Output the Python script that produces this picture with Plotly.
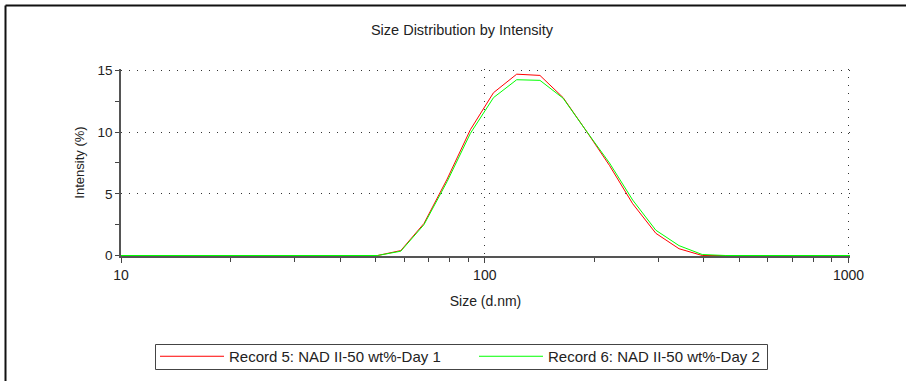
import plotly.graph_objects as go

# Size bins (d.nm)
sizes = [8.721, 10.10, 11.70, 13.54, 15.69, 18.17, 21.04, 24.36, 28.21, 32.67,
         37.84, 43.82, 50.75, 58.77, 68.06, 78.82, 91.28, 105.7, 122.4, 141.8,
         164.2, 190.1, 220.2, 255.0, 295.3, 342.0, 396.1, 458.7, 531.2, 615.1,
         712.4, 825.0, 955.4, 1106]

# Intensity (%) for each record
day1 = [0, 0, 0, 0, 0, 0, 0, 0, 0, 0,
        0, 0, 0.0, 0.4, 2.6, 6.2, 10.2, 13.2, 14.7, 14.6,
        12.8, 10.1, 7.3, 4.2, 1.8, 0.55, 0.0, 0, 0, 0,
        0, 0, 0, 0]
day2 = [0, 0, 0, 0, 0, 0, 0, 0, 0, 0,
        0, 0, 0.0, 0.35, 2.5, 6.0, 9.9, 12.8, 14.25, 14.2,
        12.75, 10.1, 7.5, 4.5, 2.05, 0.8, 0.08, 0, 0, 0,
        0, 0, 0, 0]

names = ["Record 5: NAD II-50 wt%-Day 1", "Record 6: NAD II-50 wt%-Day 2"]
colors = ["#ff0000", "#00ff00"]

title_text = "Size Distribution by Intensity"
x_title = "Size (d.nm)"
y_title = "Intensity (%)"
y_ticks = [0, 5, 10, 15]
x_ticks = [10, 100, 1000]
x_minor = [20, 30, 40, 50, 60, 70, 80, 90, 200, 300, 400, 500, 600, 700, 800, 900]

FONT = "Liberation Sans, Arial, sans-serif"

fig = go.Figure()
for vals, nm, col in zip([day1, day2], names, colors):
    fig.add_trace(go.Scatter(x=sizes, y=vals, mode="lines", name=nm,
                             line=dict(color=col, width=1)))

L, R, T, B = 121, 56, 69, 125
W, H = 906, 381
pw = W - L - R
ph = H - T - B


def px_x(x):
    return (x - L) / pw


def px_y(y):
    return (H - B - y) / ph


fig.update_layout(
    width=W, height=H,
    margin=dict(l=L, r=R, t=T, b=B, pad=0, autoexpand=False),
    paper_bgcolor="white", plot_bgcolor="white",
    font=dict(family=FONT, size=13, color="#222"),
    title=dict(text=title_text, x=(462) / W, xanchor="center",
               y=1 - 30 / H, yanchor="middle", yref="container",
               font=dict(size=14.5, color="#222")),
    xaxis=dict(type="log", range=[1, 3.004], automargin=False,
               tickvals=x_ticks, ticktext=[str(v) for v in x_ticks],
               ticks="outside", ticklen=5, tickcolor="#444", tickwidth=1,
               showline=True, linecolor="#555", linewidth=1.5,
               showgrid=True, gridcolor="#333", gridwidth=1, griddash="1px,7px",
               zeroline=False,
               tickfont=dict(size=14),
               title=dict(text=x_title, font=dict(size=14), standoff=15),
               minor=dict(tickvals=x_minor, ticks="outside", ticklen=4,
                          tickcolor="#444", showgrid=False)),
    yaxis=dict(range=[-0.04, 15.12], automargin=False,
               tickvals=y_ticks,
               ticks="outside", ticklen=4, tickcolor="#444", tickwidth=1,
               showline=True, linecolor="#555", linewidth=1.5,
               showgrid=True, gridcolor="#333", gridwidth=1, griddash="1px,7px",
               zeroline=False,
               tickfont=dict(size=13.5),
               title=dict(text=y_title, font=dict(size=13), standoff=10),
               minor=dict(dtick=2.5, ticks="outside", ticklen=4,
                          tickcolor="#444", showgrid=False)),
    showlegend=True,
    legend=dict(orientation="h", x=px_x(155), xanchor="left",
                xref="paper",
                y=1 - 356.5 / H, yanchor="middle", yref="container",
                bgcolor="rgba(0,0,0,0)", borderwidth=0,
                font=dict(size=15, color="#222"), itemwidth=64,
                entrywidth=240, traceorder="normal"),
)

# Page border (top and left edges)
fig.add_shape(type="line", xref="paper", yref="paper",
              x0=px_x(5.5), x1=px_x(W + 5),
              y0=px_y(5.5), y1=px_y(5.5),
              line=dict(color="#111", width=2))
fig.add_shape(type="line", xref="paper", yref="paper",
              x0=px_x(5.5), x1=px_x(5.5),
              y0=px_y(5.5), y1=px_y(H + 5),
              line=dict(color="#111", width=2))
# Legend frame
fig.add_shape(type="rect", xref="paper", yref="paper",
              x0=px_x(155.5), x1=px_x(767.5),
              y0=px_y(344.5), y1=px_y(369.5),
              line=dict(color="#444", width=1), fillcolor="white",
              layer="below")

fig.write_html("out.html")
